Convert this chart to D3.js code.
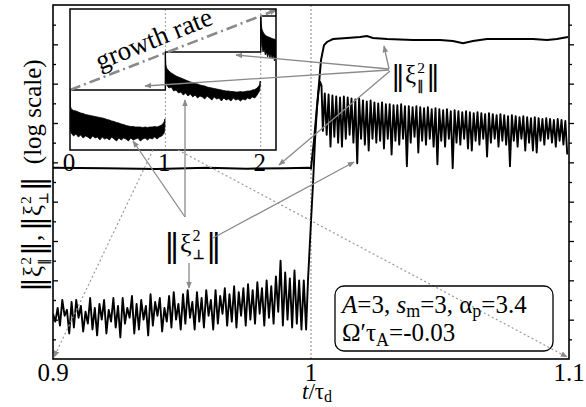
<!DOCTYPE html>
<html><head><meta charset="utf-8">
<script src="https://cdn.jsdelivr.net/npm/d3@7"></script>
<style>
body{margin:0;background:#fff}
svg{display:block}
text{font-family:"Liberation Serif","DejaVu Serif","Noto Serif",serif;fill:#000}
.bar{font-family:"DejaVu Serif","DejaVu Sans",serif}
</style>
</head><body><svg id="c" width="586" height="407"></svg>
<script>
// ---------------- DATA (log10 units) ----------------
const xTicks = [0.9, 1.0, 1.1];
const xTickLabels = ["0.9", "1", "1.1"];
const yTickValues = [1,2,3,4,5,6,7,8,9,10,11,12,13,14,15,16,17];

// ||xi_par^2|| main curve
const parT = [0.900,0.920,0.940,0.960,0.975,0.990,0.999,1.000,1.00116,1.00271,1.00388,1.00504,1.0062,1.00853,1.0140,1.0190,1.0217,1.0240,1.0295,1.0395,1.0500,1.0550,1.0589,1.0628,1.0682,1.0783,1.0860,1.0915,1.0953,1.0996];
const parV = [9.72,9.70,9.66,9.72,9.68,9.70,9.72,9.70,11.1,13.4,15.2,15.96,16.12,16.27,16.32,16.37,16.42,16.32,16.27,16.22,16.22,16.17,16.06,16.17,16.27,16.27,16.27,16.22,16.27,16.37];

// ||xi_perp^2|| before t=1 (sampled every 0.0009 from 0.900)
const perpPreStart = 0.900, perpPreStep = 0.0009;
const perpPreV = [2.3,1.9,2.6,1.7,3.0,2.2,2.5,1.3,2.9,1.6,
 3.0,2.1,2.7,1.4,2.4,1.8,3.1,1.5,2.6,1.2,
 2.8,2.0,3.0,1.3,2.5,1.9,3.1,1.6,2.7,1.1,
 3.1,1.8,2.6,2.1,3.2,1.3,2.8,1.5,3.0,2.0,
 2.7,1.2,3.3,1.7,2.9,2.2,3.1,1.4,2.6,1.9,
 3.2,1.6,3.4,2.0,2.8,1.5,3.3,1.8,3.5,2.1,
 2.9,1.5,3.4,1.9,3.1,1.6,3.5,2.2,3.0,1.5,
 3.5,1.8,3.2,2.3,3.6,1.7,3.3,1.9,3.7,1.6,
 3.4,2.2,3.6,1.7,3.8,2.0,3.5,1.8,3.9,2.3,
 3.6,1.7,4.0,2.1,3.7,1.8,4.2,2.4,5.0,1.7,
 4.4,2.0,4.1,1.6,4.5,1.8,4.0,1.5,4.0,1.5];
// steep rise of ||xi_perp^2||
const perpRiseT = [0.99884,1.0,1.00078,1.00155,1.00233,1.00291,1.00349,1.00407];
const perpRiseV = [4.0,7.0,8.9,11.1,12.8,13.6,14.1,13.9];
// ||xi_perp^2|| after the jump (sampled every 0.00074 from 1.0046)
const perpPostStart = 1.0046, perpPostStep = 0.00074;
const perpPostV = [11.6,13.5,11.4,13.45,10.8,13.4,11.3,13.35,11.0,13.3,10.8,13.35,11.2,13.3,11.4,13.25,11.0,13.2,9.95,13.25,
 11.2,13.15,10.9,13.1,10.6,13.15,11.2,13.05,11.0,13.0,11.1,13.05,10.7,12.95,11.2,12.95,10.4,12.9,11.1,12.9,
 10.9,12.95,11.2,12.85,9.8,12.85,11.0,12.8,11.3,12.85,10.5,12.8,11.1,12.75,10.9,12.8,11.2,12.7,10.8,12.75,
 9.9,12.7,11.1,12.65,10.8,12.7,11.2,12.6,9.7,12.65,11.0,12.6,10.9,12.55,11.2,12.6,10.7,12.55,10.6,12.5,
 11.1,12.55,10.9,12.5,11.2,12.45,10.3,12.5,11.0,12.45,11.2,12.4,10.8,12.45,11.1,12.4,10.9,12.35,9.8,12.4,
 11.1,12.35,10.8,12.3,11.2,12.35,10.6,12.3,11.0,12.25,10.6,12.3,10.5,12.25,11.1,12.2,10.9,12.25,11.2,12.2,
 11.0,12.15,10.8,12.2,11.1,12.15,10.9,12.1,10.4];

// ---- inset (three rotation-rate steps) ----
const insetTicks = [0, 1, 2];
const insetParT = [0, 1, 1, 2, 2, 2.16];
const insetParV = [6.0, 6.0, 9.8, 9.8, 13.4, 13.4];
const seg1T = [0,0.004,0.0125,0.0375,0.0625,0.0875,0.1125,0.1375,0.1625,0.1875,0.2125,0.2375,0.2625,0.2875,0.3125,0.3375,0.3625,0.3875,0.4125,0.4375,0.4625,0.4875,0.5125,0.5375,0.5625,0.5875,0.6125,0.6375,0.6625,0.6875,0.7125,0.7375,0.7625,0.7875,0.8125,0.8375,0.8625,0.8875,0.9125,0.9375,0.9625,0.9875,0.995];
const seg1Hi = [6.0,4.4,4.1,3.95,3.9,3.8,3.7,3.65,3.55,3.5,3.45,3.4,3.35,3.3,3.25,3.2,3.15,3.05,3.0,2.9,2.85,2.75,2.7,2.6,2.55,2.45,2.4,2.35,2.35,2.3,2.3,2.3,2.25,2.3,2.25,2.3,2.3,2.35,2.3,2.4,2.5,2.8,3.1];
const seg1Lo = [6.0,1.9,1.7,1.4,1.6,1.3,1.5,1.2,1.4,1.3,1.1,1.4,1.2,1.3,1.0,1.3,1.1,1.2,1.0,1.3,1.1,0.9,1.2,1.0,1.2,1.1,0.9,1.2,1.0,1.1,1.2,0.9,1.1,1.2,1.0,1.2,1.1,1.3,1.1,1.3,1.4,1.7,2.3];
const seg2T = [1,1.004,1.0125,1.0375,1.0625,1.0875,1.1125,1.1375,1.1625,1.1875,1.2125,1.2375,1.2625,1.2875,1.3125,1.3375,1.3625,1.3875,1.4125,1.4375,1.4625,1.4875,1.5125,1.5375,1.5625,1.5875,1.6125,1.6375,1.6625,1.6875,1.7125,1.7375,1.7625,1.7875,1.8125,1.8375,1.8625,1.8875,1.9125,1.9375,1.9625,1.9875,1.995];
const seg2Hi = [9.8,8.6,8.2,7.9,7.7,7.55,7.4,7.3,7.2,7.1,7.0,6.9,6.8,6.75,6.65,6.6,6.5,6.45,6.4,6.3,6.25,6.2,6.15,6.1,6.05,6.0,5.95,5.9,5.9,5.85,5.85,5.8,5.8,5.85,5.8,5.85,5.9,5.9,6.0,6.05,6.2,6.5,6.9];
const seg2Lo = [9.8,7.0,6.5,6.2,6.3,5.9,6.0,5.7,5.8,5.5,5.7,5.4,5.6,5.3,5.5,5.2,5.4,5.3,5.1,5.4,5.2,5.0,5.3,5.1,5.2,4.9,5.2,5.0,5.1,4.9,5.2,5.0,5.1,4.9,5.1,5.0,5.2,5.1,5.3,5.2,5.5,5.9,6.4];
const seg3T = [2.0,2.004,2.012,2.024,2.036,2.048,2.06,2.072,2.084,2.096,2.108,2.12,2.132,2.144,2.156,2.16];
const seg3Hi = [13.4,12.7,12.1,11.8,11.6,11.5,11.4,11.35,11.3,11.25,11.2,11.15,11.1,11.1,11.0,11.0];
const seg3Lo = [13.4,11.4,10.4,9.8,10.1,9.5,9.8,9.3,9.7,9.2,9.6,9.1,9.5,8.9,9.3,9.0];
const growthT = [0, 2.16];
const growthV = [6.0, 14.0];

// ---------------- DRAWING ----------------
const svg = d3.select("#c");
const x = d3.scaleLinear().domain([0.9, 1.1]).range([53, 569]);
const y = d3.scaleLinear().domain([0, 18]).range([359, 5]);
const ix = d3.scaleLinear().domain([0, 2.16]).range([70, 276]);
const iy = d3.scaleLinear().domain([0, 14.1]).range([150, 9]);
const gray = "#8a8a8a";

const defs = svg.append("defs");
defs.append("clipPath").attr("id","mainClip").append("rect").attr("x",53).attr("y",5).attr("width",516).attr("height",354);
defs.append("clipPath").attr("id","insClip").append("rect").attr("x",70).attr("y",9).attr("width",206).attr("height",141);
defs.append("marker").attr("id","ah").attr("viewBox","0 0 10 10").attr("refX",9).attr("refY",5)
  .attr("markerWidth",7).attr("markerHeight",7).attr("markerUnits","userSpaceOnUse").attr("orient","auto")
  .append("path").attr("d","M0,1L10,5L0,9Z").attr("fill",gray);

// vertical dotted line at t = 1
svg.append("line").attr("x1",x(1)).attr("x2",x(1)).attr("y1",y(18)).attr("y2",y(0))
  .attr("stroke","#999").attr("stroke-width",1.2).attr("stroke-dasharray","2,2");

const main = svg.append("g").attr("clip-path","url(#mainClip)");
const line = d3.line().x(d=>x(d[0])).y(d=>y(d[1]));
main.append("path").datum(parT.map((t,i)=>[t,parV[i]])).attr("d",line)
  .attr("fill","none").attr("stroke","#000").attr("stroke-width",2);
const perpPts = perpPreV.map((v,i)=>[perpPreStart+i*perpPreStep, v])
  .concat(perpRiseT.map((t,i)=>[t,perpRiseV[i]]))
  .concat(perpPostV.map((v,i)=>[perpPostStart+i*perpPostStep, v]));
main.append("path").datum(perpPts).attr("d",line)
  .attr("fill","none").attr("stroke","#000").attr("stroke-width",1.9).attr("stroke-linejoin","round");

// axes (inside ticks)
function yAxis(gen, xpos, vals, size){
  svg.append("g").attr("transform",`translate(${xpos},0)`)
    .call(gen(y).tickValues(vals).tickSize(-size).tickFormat(""))
    .call(g=>g.select(".domain").remove())
    .call(g=>g.selectAll("line").attr("stroke","#000").attr("stroke-width",1.3));
}
yAxis(d3.axisLeft, 53, yTickValues.filter(v=>v%2===0), 5);
yAxis(d3.axisLeft, 53, yTickValues.filter(v=>v%2===1), 3);
yAxis(d3.axisRight, 569, yTickValues.filter(v=>v%2===0), -5);
yAxis(d3.axisRight, 569, yTickValues.filter(v=>v%2===1), -3);
xTicks.forEach((t,i)=>svg.append("text").attr("x",x(t)).attr("y",381).attr("text-anchor","middle")
  .style("font-size","25px").text(xTickLabels[i]));
svg.append("rect").attr("x",53).attr("y",5).attr("width",516).attr("height",354)
  .attr("fill","none").attr("stroke","#000").attr("stroke-width",1.6);

// ---------- inset ----------
svg.append("rect").attr("x",70).attr("y",9).attr("width",206).attr("height",141).attr("fill","#fff");
const ins = svg.append("g").attr("clip-path","url(#insClip)");
[1,2].forEach(t=>ins.append("line").attr("x1",ix(t)).attr("x2",ix(t)).attr("y1",9).attr("y2",150)
  .attr("stroke","#999").attr("stroke-width",1).attr("stroke-dasharray","2,2"));
[[seg1T,seg1Hi,seg1Lo],[seg2T,seg2Hi,seg2Lo],[seg3T,seg3Hi,seg3Lo]].forEach(([T,H,L])=>{
  ins.append("path").datum(T.map((t,i)=>[t,H[i],L[i]]))
    .attr("d",d3.area().x(d=>ix(d[0])).y0(d=>iy(d[2])).y1(d=>iy(d[1])))
    .attr("fill","#000").attr("stroke","#000").attr("stroke-width",0.8);
});
ins.append("path").datum(insetParT.map((t,i)=>[t,insetParV[i]]))
  .attr("d",d3.line().x(d=>ix(d[0])).y(d=>iy(d[1])))
  .attr("fill","none").attr("stroke","#000").attr("stroke-width",1.4);
svg.append("path").datum(growthT.map((t,i)=>[t,growthV[i]]))
  .attr("d",d3.line().x(d=>ix(d[0])).y(d=>iy(d[1])))
  .attr("fill","none").attr("stroke",gray).attr("stroke-width",2.6)
  .attr("stroke-dasharray","11,4,2,4").attr("marker-end","url(#ah)");
svg.append("rect").attr("x",70).attr("y",9).attr("width",206).attr("height",141)
  .attr("fill","none").attr("stroke","#000").attr("stroke-width",1.5);
insetTicks.forEach(t=>svg.append("text").attr("x",ix(t)-1).attr("y",171).attr("text-anchor","middle")
  .style("font-size","25px").text(t));
svg.append("text").attr("transform","translate(157,47) rotate(-22)").attr("text-anchor","middle")
  .style("font-size","27px").text("growth rate");

// ---------- norm symbol helper ----------
function drawNorm(g, x0, y0, fs, sub, barFs, barDy){
  const b1 = g.append("text").attr("class","bar").attr("x",x0).attr("y",y0+barDy).style("font-size",barFs+"px").text("‖");
  let cx = x0 + b1.node().getComputedTextLength();
  const xi = g.append("text").attr("x",cx).attr("y",y0).style("font-size",fs+"px").text("ξ");
  cx += xi.node().getComputedTextLength() + 1;
  const sp = g.append("text").attr("x",cx).attr("y",y0-fs*0.42).style("font-size",(fs*0.62)+"px").text("2");
  const sb = g.append("text").attr("class","bar").attr("x",cx).attr("y",y0+fs*0.28)
    .style("font-size",(fs*0.5)+"px").attr("stroke","#000").attr("stroke-width",0.35).text(sub);
  cx += Math.max(sp.node().getComputedTextLength(), sb.node().getComputedTextLength()) + 1;
  const b2 = g.append("text").attr("class","bar").attr("x",cx).attr("y",y0+barDy).style("font-size",barFs+"px").text("‖");
  return cx + b2.node().getComputedTextLength();
}

// y-axis label (rotated)
const yl = svg.append("g").attr("transform","translate(41,292) rotate(-90)");
let ux = drawNorm(yl, 0, 0, 25, "‖", 30, 3);
yl.append("text").attr("x",ux).attr("y",0).style("font-size","25px").text(",");
ux = drawNorm(yl, ux+10, 0, 25, "⊥", 30, 3);
yl.append("text").attr("x",ux+12).attr("y",0).style("font-size","25px").text("(log scale)");

// annotation labels
drawNorm(svg, 391, 83, 25, "‖", 28, 2);
drawNorm(svg, 164, 252, 26, "⊥", 32, 4);

// arrows
const arrows = [
  [389,69,384,46],[389,69,236,55],[389,70,145,86],[390,71,279,165],
  [185,217,133,141],[185,217,185,100],[213,238,354,162],[189,263,189,288]
];
arrows.forEach(a=>svg.append("line").attr("x1",a[0]).attr("y1",a[1]).attr("x2",a[2]).attr("y2",a[3])
  .attr("stroke",gray).attr("stroke-width",1.3).attr("marker-end","url(#ah)"));
// zoom (dotted) lines inset -> main
[[153,150,54,357],[178,150,567,357]].forEach(a=>svg.append("line")
  .attr("x1",a[0]).attr("y1",a[1]).attr("x2",a[2]).attr("y2",a[3])
  .attr("stroke","#999").attr("stroke-width",1.2).attr("stroke-dasharray","2,2.5").attr("marker-end","url(#ah)"));

// parameter box
svg.append("rect").attr("x",335).attr("y",286).attr("width",218).attr("height",65).attr("rx",9)
  .attr("fill","none").attr("stroke","#000").attr("stroke-width",1.3);
const t1 = svg.append("text").attr("x",342).attr("y",313).style("font-size","25px");
t1.append("tspan").style("font-style","italic").text("A");
t1.append("tspan").text("=3, ");
t1.append("tspan").style("font-style","italic").text("s");
t1.append("tspan").attr("dy",4).style("font-size","18px").text("m");
t1.append("tspan").attr("dy",-4).text("=3, α");
t1.append("tspan").attr("dy",4).style("font-size","18px").text("p");
t1.append("tspan").attr("dy",-4).text("=3.4");
const t2 = svg.append("text").attr("x",342).attr("y",341).style("font-size","25px");
t2.append("tspan").text("Ω′τ");
t2.append("tspan").attr("dy",5).style("font-size","18px").text("A");
t2.append("tspan").attr("dy",-5).text("=-0.03");

// x-axis title
const xt = svg.append("text").attr("x",317).attr("y",399).attr("text-anchor","middle").style("font-size","23px");
xt.append("tspan").style("font-style","italic").text("t");
xt.append("tspan").text("/τ");
xt.append("tspan").attr("dy",3).style("font-size","16px").text("d");
</script></body></html>
